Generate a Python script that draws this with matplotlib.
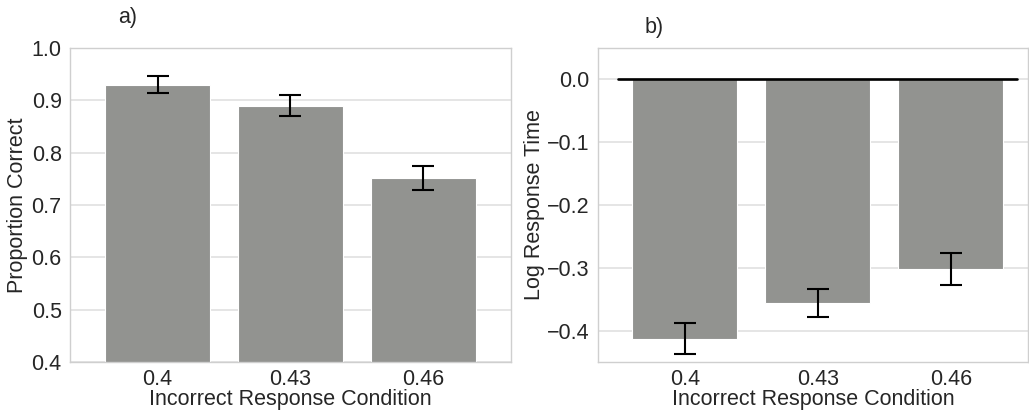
import matplotlib
matplotlib.use("Agg")
import matplotlib.pyplot as plt
import numpy as np

plt.rcParams['font.family'] = ['Liberation Sans', 'DejaVu Sans']

conditions = ["0.4", "0.43", "0.46"]
prop_correct = [0.93, 0.89, 0.752]
prop_err = [0.016, 0.020, 0.023]
log_rt = [-0.413, -0.356, -0.302]
log_rt_err = [0.025, 0.023, 0.025]

bar_color = "#929390"
text_color = "#262626"
grid_color = "#dedede"
spine_color = "#cfcfcf"
fs = 15.5

fig = plt.figure(figsize=(10.29, 4.15), dpi=100)
ax_a = fig.add_axes([0.068, 0.1277, 0.4286, 0.7566])
ax_b = fig.add_axes([0.5811, 0.1277, 0.4184, 0.7566])

x = np.arange(len(conditions))


def style(ax):
    ax.set_axisbelow(True)
    ax.grid(axis='y', color=grid_color, linewidth=1.1)
    ax.grid(axis='x', visible=False)
    for s in ax.spines.values():
        s.set_color(spine_color)
        s.set_linewidth(1.0)
    ax.tick_params(length=0, labelsize=fs, colors=text_color)
    ax.tick_params(axis='y', pad=6)
    ax.tick_params(axis='x', pad=5)
    ax.set_xticks(x)
    ax.set_xticklabels(conditions)
    ax.set_xlabel("Incorrect Response Condition", fontsize=fs,
                  color=text_color, labelpad=-1)


# panel a: accuracy
ax_a.bar(x, prop_correct, width=0.79, color=bar_color, edgecolor="white",
         linewidth=0.8)
ax_a.errorbar(x, prop_correct, yerr=prop_err, fmt='none', ecolor='black',
              elinewidth=1.5, capsize=8, capthick=1.5)
ax_a.set_ylim(0.4, 1.0)
ax_a.set_xlim(-0.66, 2.66)
ax_a.set_yticks([0.4, 0.5, 0.6, 0.7, 0.8, 0.9, 1.0])
ax_a.set_ylabel("Proportion Correct", fontsize=fs, color=text_color)
style(ax_a)
ax_a.yaxis.set_label_coords(-0.095, 0.5)

# panel b: log response time
ax_b.bar(x, log_rt, width=0.79, color=bar_color, edgecolor="white",
         linewidth=0.8)
ax_b.errorbar(x, log_rt, yerr=log_rt_err, fmt='none', ecolor='black',
              elinewidth=1.5, capsize=8, capthick=1.5)
ax_b.plot([-0.5, 2.5], [0, 0], color='black', linewidth=1.9,
          solid_capstyle='round', zorder=3)
ax_b.set_ylim(-0.45, 0.05)
ax_b.set_xlim(-0.654, 2.584)
ax_b.set_yticks([-0.4, -0.3, -0.2, -0.1, 0.0])
ax_b.set_ylabel("Log Response Time", fontsize=fs, color=text_color)
style(ax_b)
ax_b.yaxis.set_label_coords(-0.124, 0.5)

fig.text(118 / 1029, 1 - 17 / 415, "a)", fontsize=fs, color=text_color,
         ha='left', va='center')
fig.text(645 / 1029, 1 - 28 / 415, "b)", fontsize=fs, color=text_color,
         ha='left', va='center')

fig.savefig("out.png", dpi=100)
